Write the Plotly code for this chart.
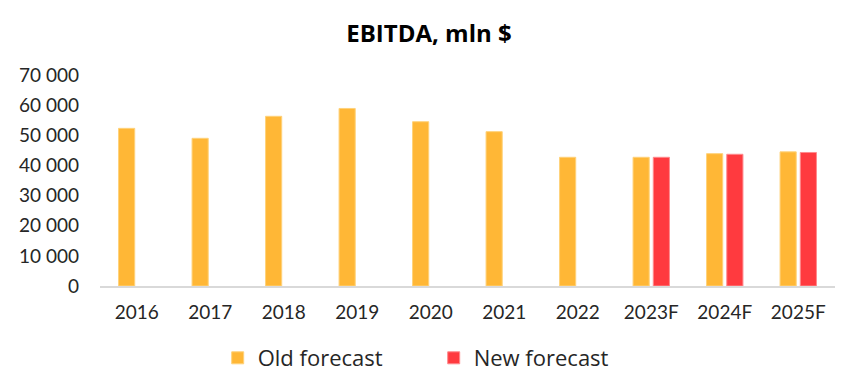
import plotly.graph_objects as go

years = ["2016", "2017", "2018", "2019", "2020", "2021", "2022", "2023F", "2024F", "2025F"]
old_forecast = [52300, 49000, 56300, 58900, 54500, 51200, 42700, 42700, 43900, 44500]
new_forecast = [None, None, None, None, None, None, None, 42700, 43700, 44300]
y_tick_vals = [0, 10000, 20000, 30000, 40000, 50000, 60000, 70000]
y_tick_text = ["0", "10 000", "20 000", "30 000", "40 000", "50 000", "60 000", "70 000"]

FONT = "Lato"
WIDE = "Open Sans"
fig = go.Figure()
fig.add_trace(go.Bar(x=years, y=old_forecast, name="Old forecast",
                     marker=dict(color="#FFB736", line=dict(color="#FFD27A", width=1))))
fig.add_trace(go.Bar(x=years, y=new_forecast, name="New forecast",
                     marker=dict(color="#FF3A3F", line=dict(color="#FF8A8D", width=1))))

fig.update_layout(
    width=858, height=390,
    margin=dict(l=100, r=23, t=75, b=103),
    paper_bgcolor="white", plot_bgcolor="white",
    barmode="group", bargap=0.45, bargroupgap=0.2,
    title=dict(text="<b>EBITDA, mln $</b>", x=0.5, xanchor="center", y=0.913, yanchor="middle",
               font=dict(family=WIDE, size=24, color="#000000")),
    font=dict(family=FONT, size=19, color="#262626"),
    showlegend=True,
    legend=dict(orientation="h", x=0.454, xanchor="center", y=-0.335, yanchor="middle",
                font=dict(family=WIDE, size=22, color="#262626"), itemwidth=30,
                traceorder="normal", entrywidth=171),
    xaxis=dict(type="category", showline=True, linecolor="#D9D9D9", linewidth=2,
               ticks="", showgrid=False, tickfont=dict(size=19), ticklabelstandoff=8),
    yaxis=dict(range=[0, 70000], tickvals=y_tick_vals, ticktext=y_tick_text,
               showgrid=False, zeroline=False, showline=False, ticks="",
               tickfont=dict(size=19), ticklabelstandoff=20),
)
fig.write_html("out.html")
